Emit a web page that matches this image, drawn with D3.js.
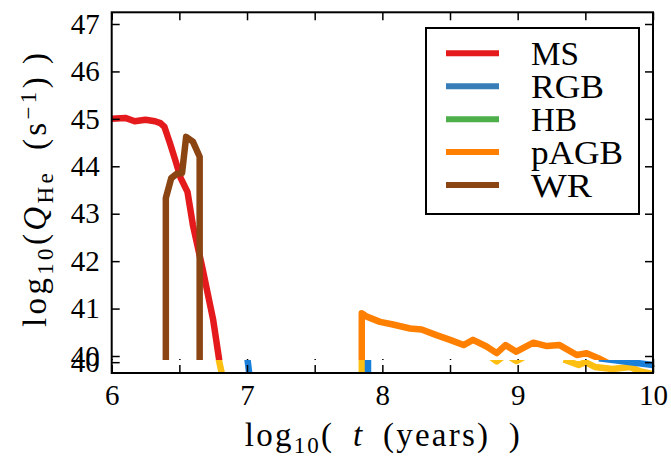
<!DOCTYPE html>
<html>
<head>
<meta charset="utf-8">
<script src="https://cdn.jsdelivr.net/npm/d3@7"></script>
<style>
  body { margin: 0; background: #fff; }
  svg { display: block; }
  text { font-family: "Liberation Serif", "DejaVu Serif", serif; fill: #000; }
</style>
</head>
<body>
<div id="chart"></div>
<script>
// axis ticks
const xTicks = [6, 6.5, 7, 7.5, 8, 8.5, 9, 9.5, 10];
const yTicks = [40, 41, 42, 43, 44, 45, 46, 47];
const stripTicks = [40];

// main panel tracks: log10(t) and log10(Q_He)
const msT = [6.0, 6.10, 6.17, 6.25, 6.32, 6.36, 6.39, 6.43, 6.47, 6.51, 6.56, 6.60, 6.67, 6.75, 6.79, 6.83];
const msQ = [45.0, 45.02, 44.95, 44.98, 44.95, 44.91, 44.83, 44.49, 44.13, 43.75, 43.46, 42.76, 41.86, 40.76, 40.0, 39.2];

const rgbT = [];
const rgbQ = [];

const hbT = [];
const hbQ = [];

const pagbT = [7.848, 7.848, 7.885, 7.983, 8.07, 8.205, 8.29, 8.40, 8.50, 8.60, 8.67, 8.77, 8.845, 8.91, 8.99, 9.116, 9.215, 9.31, 9.437, 9.51, 9.60, 9.70];
const pagbQ = [39.2, 40.90, 40.83, 40.72, 40.67, 40.58, 40.56, 40.44, 40.34, 40.23, 40.34, 40.20, 40.06, 40.23, 40.09, 40.28, 40.21, 40.23, 40.02, 40.06, 39.95, 39.80];

const wrT = [6.40, 6.40, 6.44, 6.48, 6.52, 6.55, 6.60, 6.65, 6.65];
const wrQ = [39.2, 43.33, 43.75, 43.84, 43.86, 44.62, 44.52, 44.20, 39.2];

// lower strip tracks (null = gap)
const lowT = [6.785, 6.82, null, 7.848, 7.848, null, 8.80, 8.845, 8.89, null, 8.94, 8.99, 9.05, null, 9.34, 9.45, 9.50, 9.57, 9.70, 9.83, 9.90, 10.0];
const lowQ = [40.3, 39.3, null, 40.3, 39.3, null, 40.25, 40.03, 40.25, null, 40.25, 40.05, 40.25, null, 40.12, 39.87, 40.0, 39.78, 39.68, 39.78, 39.59, 39.45];

const rgbLowT = [7.0, 7.02, null, 7.894, 7.894, null, 9.60, 10.0];
const rgbLowQ = [40.3, 39.3, null, 40.3, 39.3, null, 40.18, 39.87];

const legendNames = ["MS", "RGB", "HB", "pAGB", "WR"];
const legendColors = ["#e41a1c", "#377eb8", "#4daf4a", "#ff7f00", "#8b4513"];
const legendWidths = [48, 73, 46, 92, 61];   // text widths as drawn in the reference

const width = 671, height = 459;
const plotLeft = 111.7, plotRight = 653, plotTop = 12.3;
const mainBottom = 367, stripTop = 360, stripBottom = 373;

const svg = d3.select('#chart').append('svg')
  .attr('width', width)
  .attr('height', height);

const x = d3.scaleLinear().domain([6, 10]).range([plotLeft, plotRight]);
const y = d3.scaleLinear().domain([40, 47]).range([356, 24]);
const yStrip = d3.scaleLinear().domain([39.5, 40.1]).range([stripBottom, stripTop]);

const defs = svg.append('defs');
defs.append('clipPath').attr('id', 'clipMain')
  .append('rect').attr('x', plotLeft).attr('y', plotTop).attr('width', plotRight - plotLeft).attr('height', mainBottom - plotTop);
defs.append('clipPath').attr('id', 'clipStrip')
  .append('rect').attr('x', plotLeft).attr('y', stripTop).attr('width', plotRight - plotLeft).attr('height', stripBottom - stripTop);

function zip(ts, qs) {
  return ts.map((t, i) => ({ t: t, q: qs[i] }));
}

const lineMain = d3.line()
  .defined(d => d.t != null)
  .x(d => x(d.t)).y(d => y(d.q));
const lineStrip = d3.line()
  .defined(d => d.t != null)
  .x(d => x(d.t)).y(d => yStrip(d.q));

// main panel
const mainG = svg.append('g').attr('clip-path', 'url(#clipMain)');
const mainSeries = [
  [msT, msQ, legendColors[0]],
  [rgbT, rgbQ, legendColors[1]],
  [hbT, hbQ, legendColors[2]],
  [pagbT, pagbQ, legendColors[3]],
  [wrT, wrQ, legendColors[4]]
];
mainSeries.forEach(s => {
  if (!s[0].length) return;
  mainG.append('path')
    .datum(zip(s[0], s[1]))
    .attr('d', lineMain)
    .attr('fill', 'none')
    .attr('stroke', s[2])
    .attr('stroke-width', 6.5)
    .attr('stroke-linejoin', 'round');
});

function styleAxis(g, size) {
  g.select('.domain').remove();
  g.selectAll('.tick line').attr('stroke', '#000').attr('stroke-width', 1.5);
  g.selectAll('.tick text')
    .attr('font-family', '"Liberation Serif", "DejaVu Serif", serif')
    .attr('font-size', size)
    .attr('fill', '#000');
}

// main ticks
svg.append('g').attr('transform', `translate(${plotLeft},0)`)
  .call(d3.axisLeft(y).tickValues(yTicks).tickSizeInner(-8).tickSizeOuter(0).tickPadding(12).tickFormat(d3.format('d')))
  .call(g => styleAxis(g, 29));
svg.append('g').attr('transform', `translate(${plotRight},0)`)
  .call(d3.axisRight(y).tickValues(yTicks).tickSizeInner(-8).tickSizeOuter(0).tickFormat(''))
  .call(g => styleAxis(g, 29));
svg.append('g').attr('transform', `translate(0,${plotTop})`)
  .call(d3.axisTop(x).tickValues(xTicks).tickSizeInner(-8).tickSizeOuter(0).tickFormat(''))
  .call(g => styleAxis(g, 29));
svg.append('g').attr('transform', `translate(0,${mainBottom})`)
  .call(d3.axisBottom(x).tickValues(xTicks).tickSizeInner(-8).tickSizeOuter(0).tickFormat(''))
  .call(g => styleAxis(g, 29));

// lower strip
svg.append('rect')
  .attr('x', plotLeft).attr('y', stripTop)
  .attr('width', plotRight - plotLeft).attr('height', stripBottom - stripTop)
  .attr('fill', '#fff');

const stripG = svg.append('g').attr('clip-path', 'url(#clipStrip)');
stripG.append('path')
  .datum(zip(lowT, lowQ))
  .attr('d', lineStrip)
  .attr('fill', 'none')
  .attr('stroke', '#fdbf11')
  .attr('stroke-width', 6.5)
  .attr('stroke-linejoin', 'round');
stripG.append('path')
  .datum(zip(rgbLowT, rgbLowQ))
  .attr('d', lineStrip)
  .attr('fill', 'none')
  .attr('stroke', '#1a7fd8')
  .attr('stroke-width', 6.5)
  .attr('stroke-linejoin', 'round');

svg.append('g').attr('transform', `translate(${plotLeft},0)`)
  .call(d3.axisLeft(yStrip).tickValues(stripTicks).tickSizeInner(-8).tickSizeOuter(0).tickPadding(12).tickFormat(d3.format('d')))
  .call(g => styleAxis(g, 29));
svg.append('g').attr('transform', `translate(${plotRight},0)`)
  .call(d3.axisRight(yStrip).tickValues(stripTicks).tickSizeInner(-8).tickSizeOuter(0).tickFormat(''))
  .call(g => styleAxis(g, 29));
svg.append('g').attr('transform', `translate(0,${stripBottom})`)
  .call(d3.axisBottom(x).tickValues(xTicks).tickSizeInner(-8).tickSizeOuter(0).tickPadding(11)
    .tickFormat(d => Number.isInteger(d) ? d : ''))
  .call(g => styleAxis(g, 29));

// frame
svg.append('rect')
  .attr('x', plotLeft).attr('y', plotTop)
  .attr('width', plotRight - plotLeft).attr('height', stripBottom - plotTop)
  .attr('fill', 'none')
  .attr('stroke', '#000')
  .attr('stroke-width', 2);

// axis labels
const xLabel = svg.append('text')
  .attr('x', (plotLeft + plotRight) / 2)
  .attr('y', 446)
  .attr('text-anchor', 'middle')
  .attr('font-size', 33)
  .attr('textLength', 275)
  .attr('lengthAdjust', 'spacing');
xLabel.append('tspan').text('log');
xLabel.append('tspan').attr('baseline-shift', '-30%').attr('font-size', 23).text('10');
xLabel.append('tspan').attr('baseline-shift', '0%').text('(\u2002');
xLabel.append('tspan').attr('font-style', 'italic').text('t');
xLabel.append('tspan').text('\u2002(years)\u2002)');

const yLabel = svg.append('text')
  .attr('transform', 'translate(46,190) rotate(-90)')
  .attr('text-anchor', 'middle')
  .attr('font-size', 33)
  .attr('textLength', 274)
  .attr('lengthAdjust', 'spacing');
yLabel.append('tspan').text('log');
yLabel.append('tspan').attr('baseline-shift', '-30%').attr('font-size', 23).text('10');
yLabel.append('tspan').text('(');
yLabel.append('tspan').attr('font-style', 'italic').text('Q');
yLabel.append('tspan').attr('baseline-shift', '-30%').attr('font-size', 23).text('He');
yLabel.append('tspan').text('\u2002(s');
yLabel.append('tspan').attr('baseline-shift', '45%').attr('font-size', 23).text('\u22121');
yLabel.append('tspan').text(')\u2009)');

// legend
const legend = svg.append('g');
legend.append('rect')
  .attr('x', 426).attr('y', 28)
  .attr('width', 213).attr('height', 186)
  .attr('fill', '#fff')
  .attr('stroke', '#000')
  .attr('stroke-width', 2);
const rowY = d3.scalePoint().domain(legendNames).range([53.3, 185]);
legendNames.forEach((name, i) => {
  legend.append('line')
    .attr('x1', 446).attr('x2', 499)
    .attr('y1', rowY(name)).attr('y2', rowY(name))
    .attr('stroke', legendColors[i])
    .attr('stroke-width', 6);
  legend.append('text')
    .attr('x', 531)
    .attr('y', rowY(name) + 11.5)
    .attr('font-size', 33)
    .attr('textLength', legendWidths[i])
    .attr('lengthAdjust', 'spacingAndGlyphs')
    .text(name);
});
</script>
</body>
</html>
